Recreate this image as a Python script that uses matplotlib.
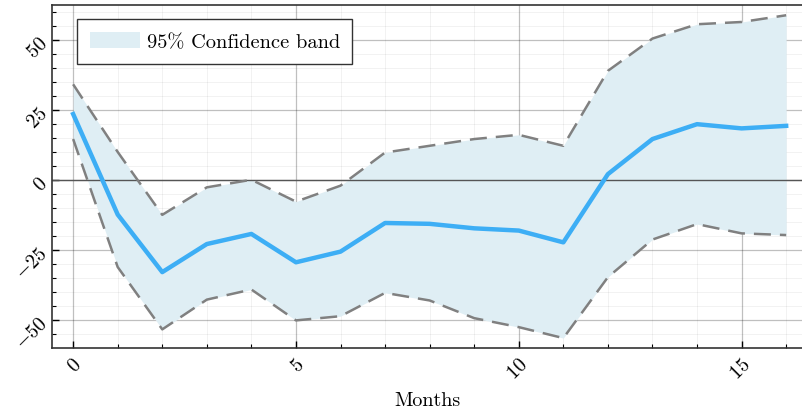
import matplotlib
matplotlib.use("Agg")
import matplotlib.pyplot as plt
import numpy as np
from matplotlib.ticker import MultipleLocator

plt.rcParams['font.family'] = ['cmr10', 'DejaVu Serif']
plt.rcParams['mathtext.fontset'] = 'cm'
plt.rcParams['axes.formatter.use_mathtext'] = True

months = np.arange(17)
response = [23.5, -12.3, -32.8, -22.8, -19.2, -29.3, -25.5, -15.3, -15.6,
            -17.2, -18.0, -22.2, 2.1, 14.6, 19.9, 18.4, 19.3]
upper = [34.1, 10.0, -12.4, -2.6, 0.1, -7.7, -2.0, 9.8, 12.2, 14.6, 16.1,
         12.2, 38.9, 50.4, 55.5, 56.3, 58.7]
lower = [14.6, -31.0, -53.2, -42.6, -39.0, -50.0, -48.5, -40.2, -42.9,
         -49.2, -52.4, -56.3, -34.6, -21.2, -15.7, -19.0, -19.6]

fig = plt.figure(figsize=(8.03, 4.10), dpi=100)
ax = fig.add_axes([0.065, 0.149, 0.934, 0.836])

ax.fill_between(months, lower, upper, color='#dfeef4', lw=0,
                label='95% Confidence band', zorder=2)
ax.plot(months, upper, color='#808080', lw=1.8, ls=(0, (6.8, 3.6)), zorder=3)
ax.plot(months, lower, color='#808080', lw=1.8, ls=(0, (6.8, 3.6)), zorder=3)
ax.axhline(0, color='#555555', lw=1.0, zorder=2.5)
ax.plot(months, response, color='#3daef5', lw=3.2, zorder=4)

ax.set_xlim(-0.47, 16.36)
ax.set_ylim(-59.8, 62.3)

ax.xaxis.set_major_locator(MultipleLocator(5))
ax.xaxis.set_minor_locator(MultipleLocator(1))
ax.yaxis.set_major_locator(MultipleLocator(25))
ax.yaxis.set_minor_locator(MultipleLocator(5))

ax.grid(which='major', color='#000000', alpha=0.25, lw=0.9, zorder=1)
ax.grid(which='minor', color='#000000', alpha=0.06, lw=0.6, zorder=1)
ax.set_axisbelow(True)

ax.tick_params(which='both', direction='in', top=False, right=False,
               labelsize=14.5)
ax.tick_params(which='major', length=5, width=1)
ax.tick_params(which='minor', length=3, width=0.8)
ax.tick_params(axis='x', pad=5)
ax.tick_params(axis='y', pad=5)

for lab in ax.get_xticklabels():
    lab.set_rotation(45)
    lab.set_ha('right')
    lab.set_va('top')
    lab.set_rotation_mode('anchor')
for lab in ax.get_yticklabels():
    lab.set_rotation(45)
    lab.set_ha('right')
    lab.set_va('center')
    lab.set_rotation_mode('anchor')

for side in ['left', 'bottom', 'top']:
    ax.spines[side].set_color('#333333')
    ax.spines[side].set_linewidth(1.2)
ax.spines['right'].set_visible(False)

ax.set_xlabel('Months', fontsize=14.5, labelpad=6)

leg = ax.legend(loc='upper left', fontsize=14.7, fancybox=False,
                framealpha=1, edgecolor='#333333', borderpad=0.62,
                handlelength=2.45, handleheight=0.9, handletextpad=0.34,
                borderaxespad=0, bbox_to_anchor=(0.033, 0.96))
leg.get_frame().set_linewidth(1.0)

fig.savefig('out.png', dpi=100)
